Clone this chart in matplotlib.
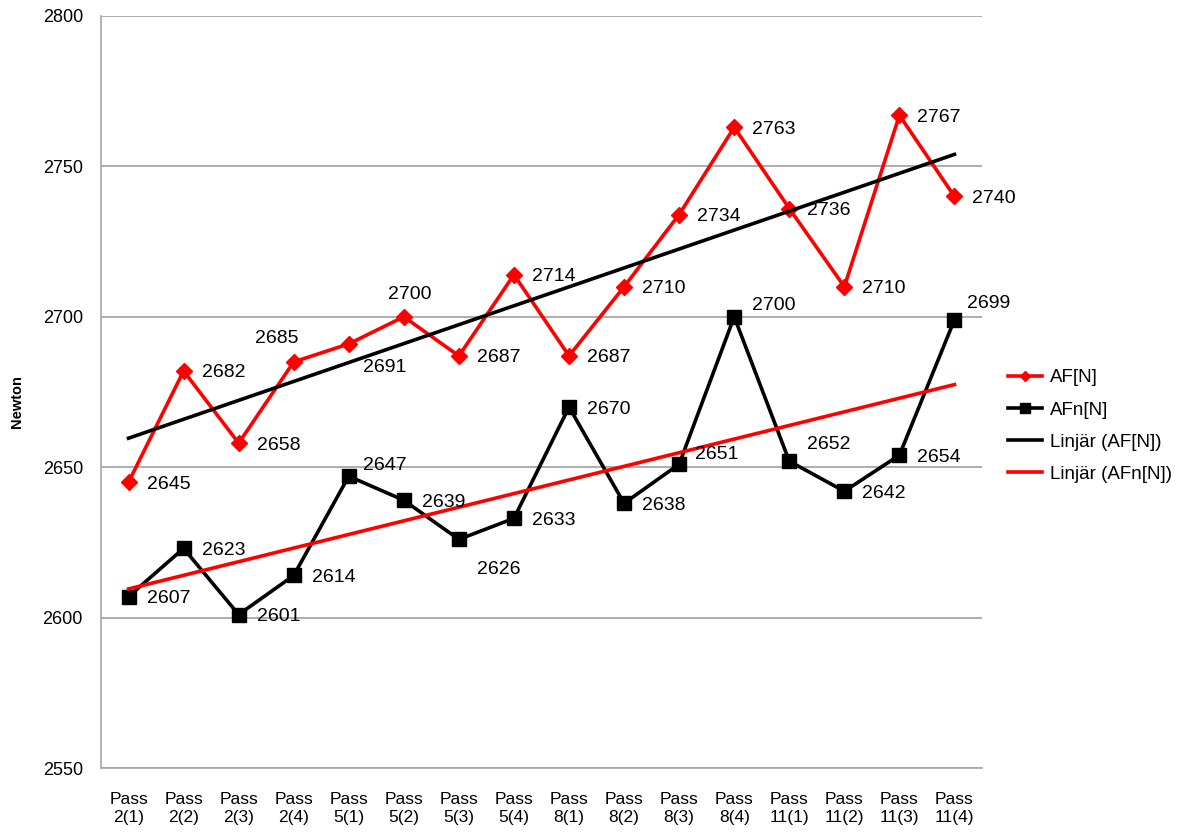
import numpy as np
import matplotlib.pyplot as plt

plt.rcParams['font.family'] = ['Liberation Sans', 'DejaVu Sans']

categories = ['Pass\n2(1)', 'Pass\n2(2)', 'Pass\n2(3)', 'Pass\n2(4)',
              'Pass\n5(1)', 'Pass\n5(2)', 'Pass\n5(3)', 'Pass\n5(4)',
              'Pass\n8(1)', 'Pass\n8(2)', 'Pass\n8(3)', 'Pass\n8(4)',
              'Pass\n11(1)', 'Pass\n11(2)', 'Pass\n11(3)', 'Pass\n11(4)']
af = [2645, 2682, 2658, 2685, 2691, 2700, 2687, 2714,
      2687, 2710, 2734, 2763, 2736, 2710, 2767, 2740]
afn = [2607, 2623, 2601, 2614, 2647, 2639, 2626, 2633,
       2670, 2638, 2651, 2700, 2652, 2642, 2654, 2699]
y_ticks = [2550, 2600, 2650, 2700, 2750, 2800]

# label offsets in pixels (dx, dy, ha); default is to the right of the point
af_offsets = {3: (-17, 25, 'center'), 4: (14, -22, 'left'), 5: (6, 24, 'center')}
afn_offsets = {4: (14, 13, 'left'), 6: (18, -28, 'left'), 10: (16, 12, 'left'),
               11: (18, 13, 'left'), 12: (18, 19, 'left'), 15: (13, 18, 'left')}

x = np.arange(len(categories))

fig = plt.figure(figsize=(11.95, 8.34), dpi=100)
ax = fig.add_axes([101 / 1195, 1 - 768 / 834, 881 / 1195, 752 / 834])

ax.plot(x, af, color='#ff0000', lw=2.6, marker='D', ms=8, label='AF[N]', zorder=3)
ax.plot(x, afn, color='black', lw=2.6, marker='s', ms=10, label='AFn[N]', zorder=3)

# linear trend lines
k1, m1 = np.polyfit(x, af, 1)
k2, m2 = np.polyfit(x, afn, 1)
ax.plot(x[[0, -1]], k1 * x[[0, -1]] + m1, color='black', lw=2.6, label='Linjär (AF[N])', zorder=4)
ax.plot(x[[0, -1]], k2 * x[[0, -1]] + m2, color='#ff0000', lw=2.6, label='Linjär (AFn[N])', zorder=4)

for vals, offs in ((af, af_offsets), (afn, afn_offsets)):
    for i, v in enumerate(vals):
        dx, dy, ha = offs.get(i, (18, 0, 'left'))
        ax.annotate(str(v), (i, v), xytext=(dx, dy), textcoords='offset pixels',
                    ha=ha, va='center_baseline', fontsize=14, zorder=5)

ax.set_xlim(-0.5, len(categories) - 0.5)
ax.set_ylim(2550, 2800)
ax.set_yticks(y_ticks)
ax.set_xticks(x)
ax.set_xticklabels(categories, fontsize=12.5, linespacing=1.25)
ax.tick_params(axis='y', length=0, pad=13, labelsize=13)
ax.tick_params(axis='x', length=0, pad=17)
ax.grid(axis='y', color='#a0a0a0', lw=1.2)
ax.set_axisbelow(True)
for s in ['top', 'right']:
    ax.spines[s].set_visible(False)
for s in ['left', 'bottom']:
    ax.spines[s].set_color('#a6a6a6')
    ax.spines[s].set_linewidth(1.2)

fig.text(17 / 1195, 1 - 402 / 834, 'Newton', rotation=90, fontsize=10.5,
         fontweight='bold', ha='center', va='center')

fig.legend(loc='center left', bbox_to_anchor=(1008 / 1195, 1 - 426 / 834),
           frameon=False, fontsize=13.5, handlelength=1.8, handletextpad=0.45,
           labelspacing=0.8, borderpad=0, borderaxespad=0, markerscale=0.7,
           numpoints=1)

fig.savefig('out.png', dpi=100)
